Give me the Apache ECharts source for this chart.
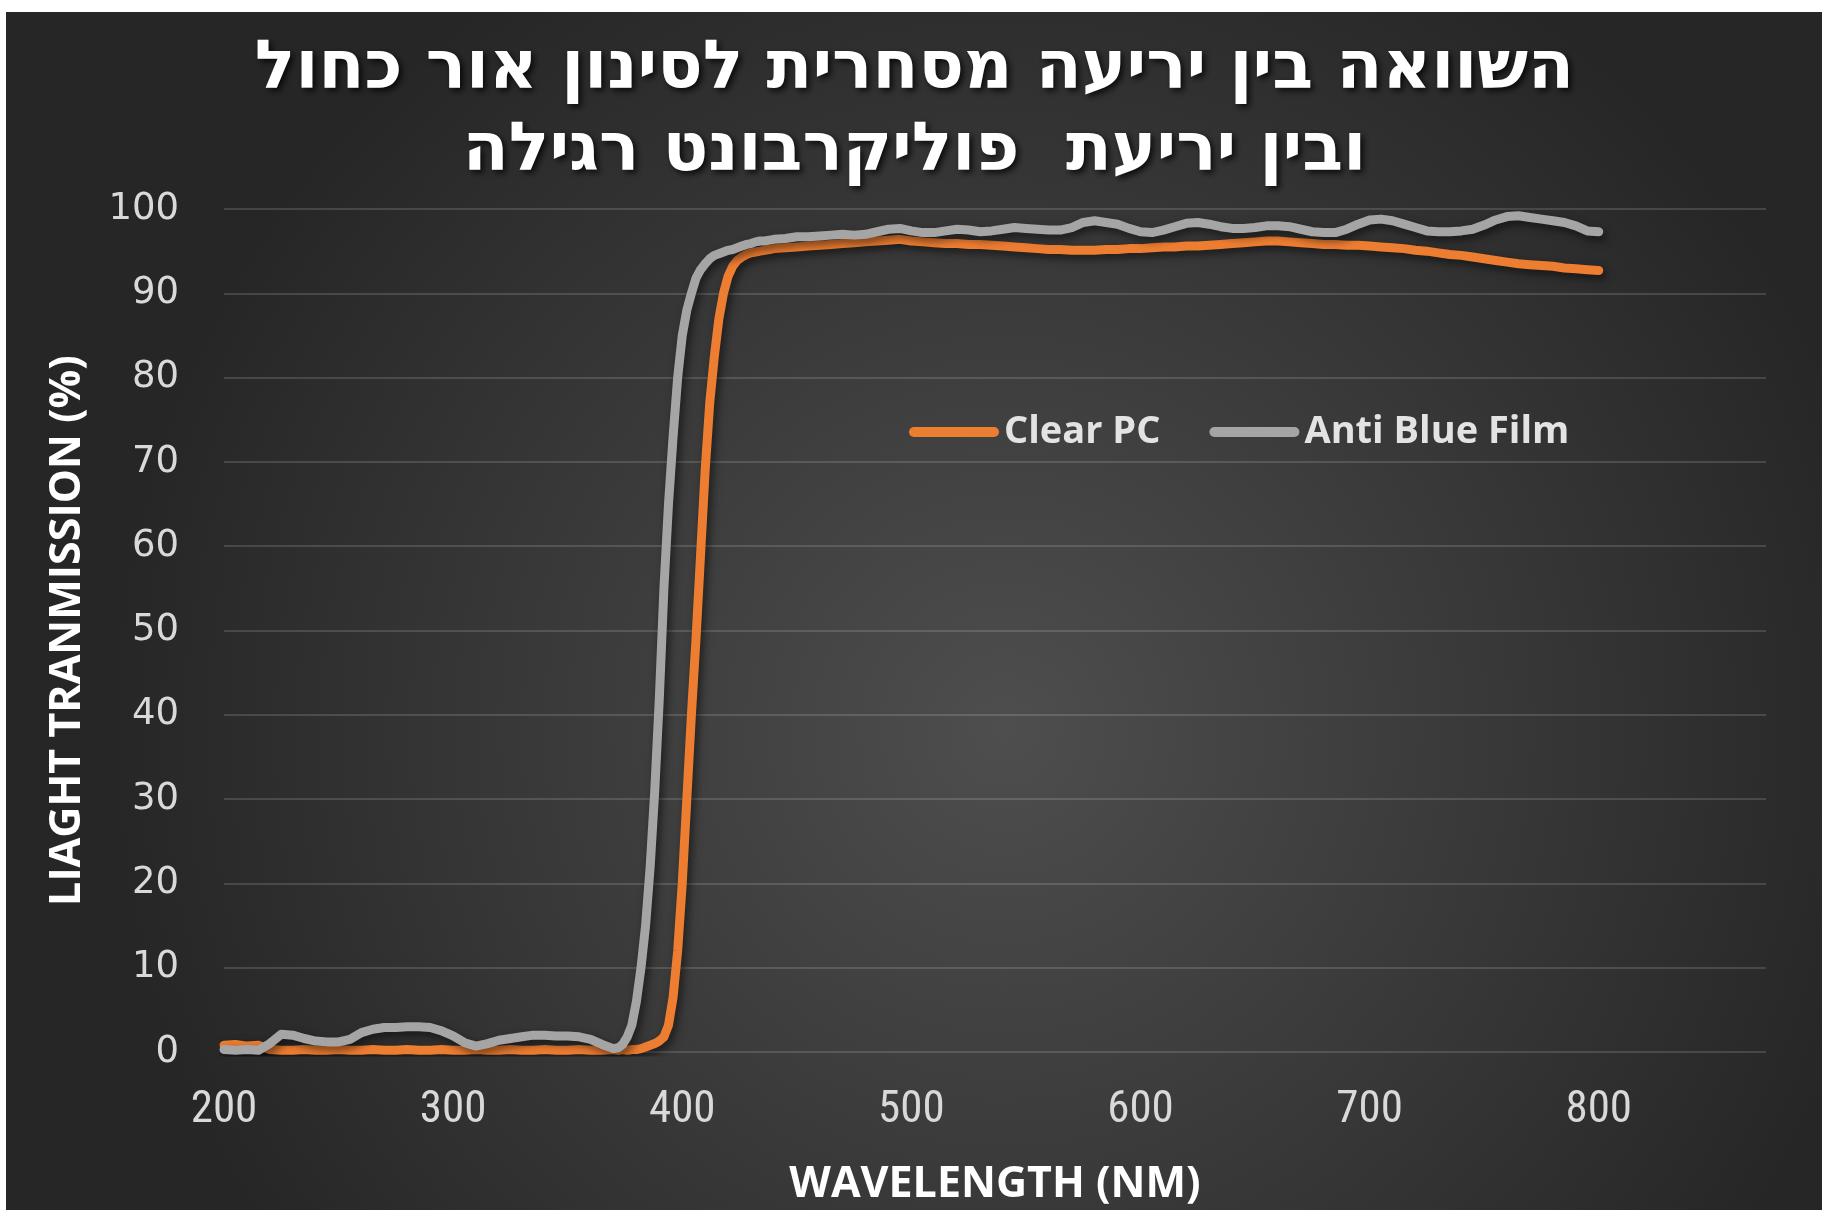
<!DOCTYPE html>
<html><head><meta charset="utf-8">
<script src="https://cdn.jsdelivr.net/npm/echarts@6.0.0/dist/echarts.min.js"></script>
<style>html,body{margin:0;padding:0;background:#fff;}#c{width:1829px;height:1215px;}</style>
</head><body><div id="c"></div>
<script>
// ---- data ----
const titleLines = ['השוואה בין יריעה מסחרית לסינון אור כחול', 'ובין יריעת  פוליקרבונט רגילה'];
const seriesNames = ['Clear PC', 'Anti Blue Film'];
const xAxisTitle = 'WAVELENGTH (NM)';
const yAxisTitle = 'LIAGHT TRANMISSION (%)';
const xTicks = [200, 300, 400, 500, 600, 700, 800];
const yTicks = [0, 10, 20, 30, 40, 50, 60, 70, 80, 90, 100];

const wavelength = [
  200,205,210,215,220,225,230,235,240,245,250,255,260,265,270,275,280,285,290,295,300,305,310,315,320,325,330,335,340,345,350,355,360,365,370,
  372,374,376,378,380,382,384,386,388,390,392,394,396,398,400,402,404,406,408,410,412,414,416,418,420,422,424,426,428,430,432,434,436,438,440,
  445,450,455,460,465,470,475,480,485,490,495,500,505,510,515,520,525,530,535,540,545,550,555,560,565,570,575,580,585,590,595,600,605,610,615,
  620,625,630,635,640,645,650,655,660,665,670,675,680,685,690,695,700,705,710,715,720,725,730,735,740,745,750,755,760,765,770,775,780,785,790,795,800
];
const clearPC = [
  0.8,0.9,0.7,0.8,0.3,0.2,0.2,0.3,0.2,0.2,0.3,0.2,0.2,0.3,0.2,0.2,0.3,0.2,0.2,0.3,0.2,0.2,0.3,0.2,0.2,0.3,0.2,0.2,0.3,0.2,0.2,0.3,0.2,0.2,0.3,
  0.2,0.3,0.2,0.3,0.3,0.4,0.6,0.8,1.0,1.3,1.8,3.2,6.5,12,20,30,40,49,59,69,77,82.5,87,90,92,93.2,93.9,94.3,94.6,94.8,94.9,95.0,95.1,95.2,95.3,
  95.4,95.5,95.6,95.7,95.8,95.9,96.0,96.1,96.2,96.3,96.4,96.2,96.1,96.0,95.9,95.9,95.8,95.8,95.7,95.6,95.5,95.4,95.3,95.2,95.2,95.1,95.1,95.1,95.2,95.2,95.3,95.3,95.4,95.5,95.5,
  95.6,95.6,95.7,95.8,95.9,96.0,96.1,96.2,96.2,96.1,96.0,95.9,95.8,95.8,95.7,95.7,95.6,95.5,95.4,95.3,95.1,95.0,94.8,94.6,94.5,94.3,94.1,93.9,93.7,93.5,93.4,93.3,93.2,93.0,92.9,92.8,92.7
];
const antiBlue = [
  0.3,0.2,0.3,0.2,1.0,2.1,2.0,1.6,1.3,1.2,1.2,1.5,2.3,2.7,2.9,2.9,3.0,3.0,2.9,2.5,1.9,1.1,0.7,1.0,1.4,1.6,1.8,2.0,2.0,1.9,1.9,1.8,1.5,0.9,0.4,
  0.5,0.9,1.8,3.2,6.0,10,15,22,31,42,55,65,73,80,85,88,90,91.8,92.8,93.5,94.1,94.5,94.7,94.9,95.1,95.2,95.4,95.6,95.8,95.9,96.1,96.2,96.2,96.3,96.4,
  96.5,96.7,96.7,96.8,96.9,97.0,96.9,97.0,97.3,97.6,97.7,97.4,97.2,97.2,97.4,97.6,97.5,97.3,97.4,97.6,97.8,97.7,97.6,97.5,97.5,97.8,98.4,98.6,98.4,98.2,97.7,97.3,97.2,97.5,97.9,
  98.3,98.4,98.2,97.9,97.7,97.7,97.8,98.0,98.0,97.9,97.6,97.3,97.2,97.2,97.6,98.2,98.7,98.8,98.6,98.2,97.8,97.4,97.3,97.3,97.4,97.6,98.1,98.7,99.1,99.2,99.0,98.8,98.6,98.4,98.0,97.4,97.3
];
const seriesColors = ['#ED7D31', '#A5A5A5'];

const chart = echarts.init(document.getElementById('c'), null, { renderer: 'canvas' });
const mkData = arr => wavelength.map((w, i) => [w, arr[i]]);
const legendIcon = 'path://M5,0 H85 A5,5 0 0 1 85,10 H5 A5,5 0 0 1 5,0 Z';
const option = {
  backgroundColor: '#ffffff',
  animation: false,
  graphic: [{
    type: 'rect', z: -10, silent: true,
    shape: { x: 6, y: 12, width: 1816, height: 1198 },
    style: { fill: { type: 'radial', x: 0.55, y: 0.6, r: 0.75, colorStops: [{ offset: 0, color: '#4e4e4e' }, { offset: 1, color: '#262626' }] } }
  }],
  title: {
    text: titleLines.join('\n'), left: 'center', top: 25,
    textStyle: { color: '#ffffff', fontFamily: 'DejaVu Sans', fontWeight: 'bold', fontSize: 67, lineHeight: 82,
      textShadowColor: 'rgba(0,0,0,0.8)', textShadowBlur: 6, textShadowOffsetX: 3, textShadowOffsetY: 3 }
  },
  legend: {
    left: 904, top: 407, itemWidth: 90, itemHeight: 10, itemGap: 49,
    data: seriesNames.map((n, i) => ({ name: n, icon: legendIcon, itemStyle: { color: seriesColors[i] } })),
    textStyle: { color: '#e3e3e3', fontFamily: 'Open Sans', fontWeight: 'bold', fontSize: 38, lineHeight: 40 }
  },
  grid: { left: 224, right: 63, top: 209, bottom: 163, outerBoundsMode: 'none', containLabel: false },
  xAxis: {
    type: 'value', min: 200, max: 873, interval: 100,
    name: xAxisTitle, nameLocation: 'middle', nameGap: 111,
    nameTextStyle: { color: '#ffffff', fontFamily: 'Open Sans', fontWeight: 'bold', fontSize: 43 },
    axisLine: { show: false }, axisTick: { show: false }, splitLine: { show: false },
    axisLabel: { color: '#d9d9d9', fontFamily: 'Roboto Condensed', fontSize: 45, margin: 36,
      formatter: v => (xTicks.indexOf(v) >= 0 ? String(v) : '') }
  },
  yAxis: {
    type: 'value', min: 0, max: 100, interval: 10,
    name: yAxisTitle, nameLocation: 'middle', nameGap: 135, nameRotate: 90,
    nameTextStyle: { color: '#ffffff', fontFamily: 'Open Sans', fontWeight: 'bold', fontSize: 43 },
    axisLine: { show: false }, axisTick: { show: false },
    splitLine: { show: true, lineStyle: { color: 'rgba(255,255,255,0.14)', width: 2 } },
    axisLabel: { color: '#d9d9d9', fontFamily: 'DejaVu Sans', fontSize: 37, margin: 45,
      formatter: v => (yTicks.indexOf(v) >= 0 ? String(v) : '') }
  },
  series: seriesNames.map((n, i) => ({
    name: n, type: 'line', showSymbol: false, symbol: 'none',
    data: mkData(i === 0 ? clearPC : antiBlue),
    itemStyle: { color: seriesColors[i] },
    lineStyle: { color: seriesColors[i], width: 9, cap: 'round', join: 'round',
      shadowColor: 'rgba(0,0,0,0.55)', shadowBlur: 8, shadowOffsetX: 3, shadowOffsetY: 4 }
  }))
};
chart.setOption(option);
</script></body></html>
